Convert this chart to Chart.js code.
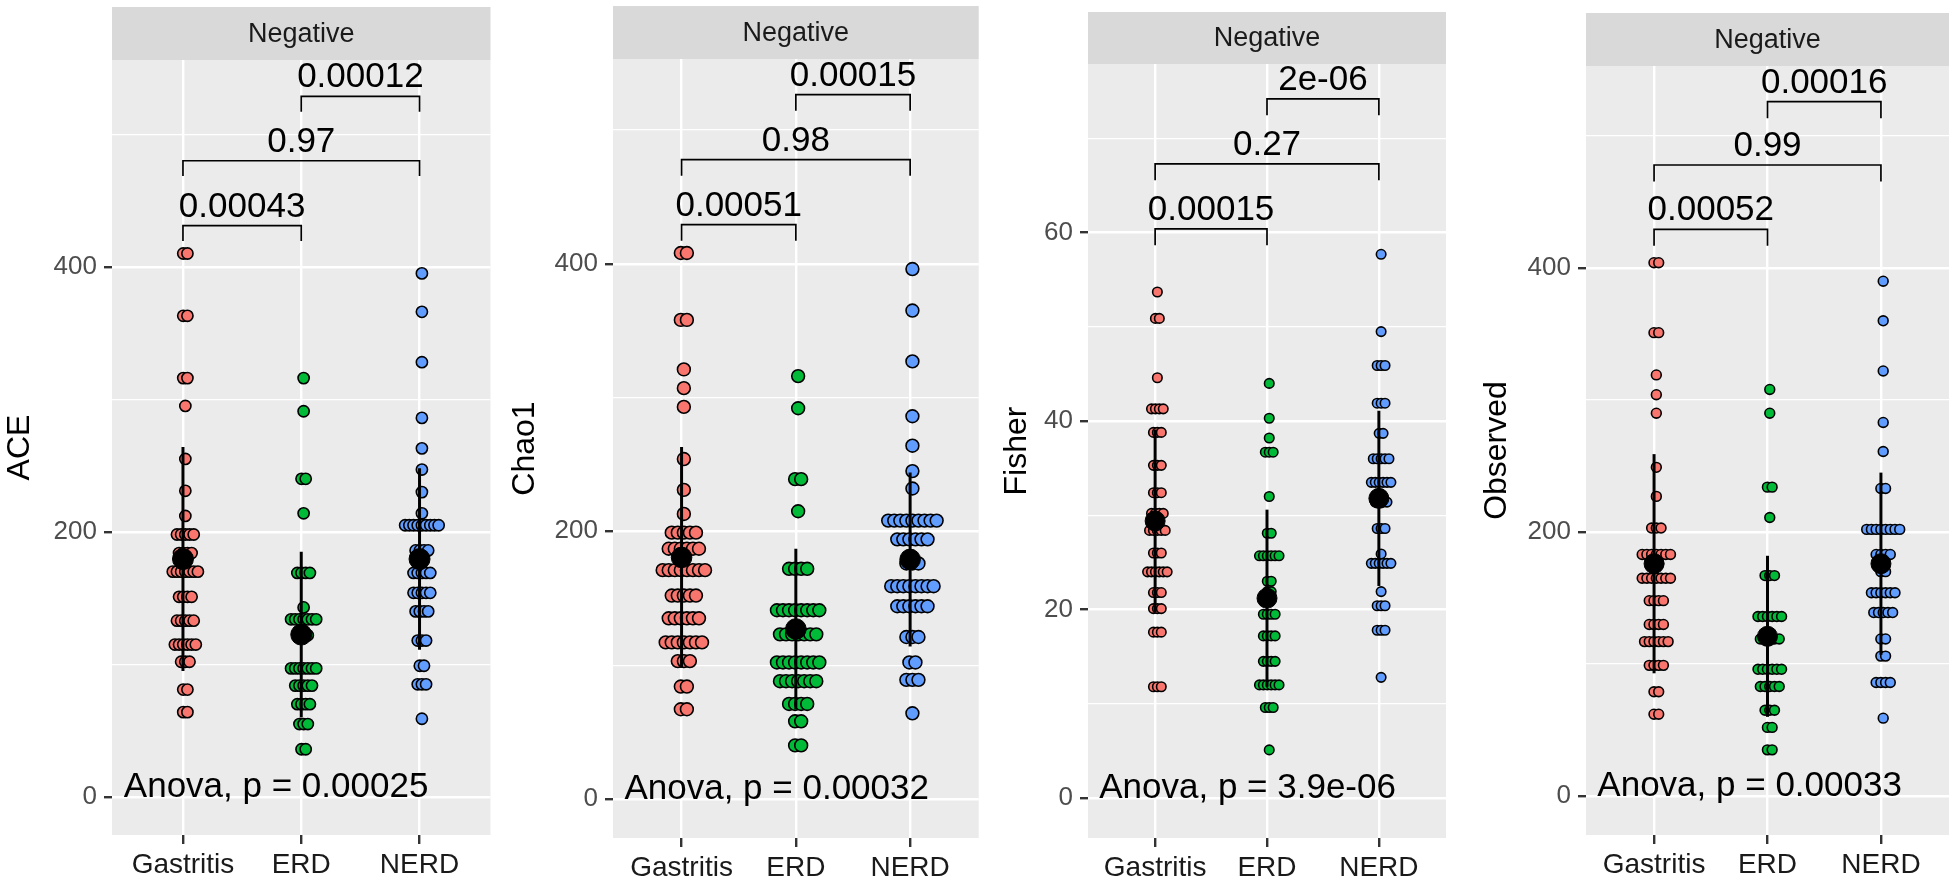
<!DOCTYPE html>
<html>
<head>
<meta charset="utf-8">
<title>Alpha diversity - Negative</title>
<script src="https://cdn.jsdelivr.net/npm/chart.js@4.4.1/dist/chart.umd.min.js"></script>
<style>
  html, body { margin: 0; padding: 0; background: #fff; }
  #wrap { position: relative; width: 1960px; height: 889px; }
  .panel { position: absolute; top: 0; height: 889px; }
</style>
</head>
<body>
<div id="wrap">
  <div class="panel" style="left:0;width:502px"><canvas id="chartAce"></canvas></div>
  <div class="panel" style="left:502px;width:488px"><canvas id="chartChao1"></canvas></div>
  <div class="panel" style="left:990px;width:467px"><canvas id="chartFisher"></canvas></div>
  <div class="panel" style="left:1457px;width:503px"><canvas id="chartObserved"></canvas></div>
</div>
<script>
var groups = ['Gastritis', 'ERD', 'NERD'];
var groupColors = ['#F8766D', '#00BA38', '#619CFF'];
var pairs = [[1, 2], [1, 3], [2, 3]];
var countTicks = [0, 200, 400];
var fisherTicks = [0, 20, 40, 60];

// rows of the dot plot: [value, number of samples in the bin]
var aceGastritis = [[410,2],[363,2],[316,2],[295,1],[255,1],[231,1],[212,1],[198,5],[184,4],[170,7],[151,4],[133,5],[115,6],[102,3],[81,2],[64,2]];
var aceErd = [[316,1],[291,1],[240,2],[214,1],[169,4],[143,1],[134,7],[122,3],[97,7],[84,5],[70,4],[55,3],[36,2]];
var aceNerd = [[395,1],[366,1],[328,1],[286,1],[263,1],[247,1],[230,1],[214,1],[205,9],[186,4],[169,5],[154,5],[140,4],[118,3],[99,2],[85,3],[59,1]];
var aceMean = [179.5, 122.5, 179.5];
var aceSd = [84.5, 62.5, 68.5];
var aceBrackets = [431, 480, 528.5];
var acePvalues = ['0.00043', '0.97', '0.00012'];
var aceAnova = 'Anova, p = 0.00025';

var chaoGastritis = [[408,2],[358,2],[321,1],[307,1],[293,1],[254,1],[231,1],[213,1],[199,5],[187,6],[171,8],[152,5],[135,6],[117,7],[103,3],[84,2],[67,2]];
var chaoErd = [[316,1],[292,1],[239,2],[215,1],[172,4],[141,8],[123,7],[102,8],[88,7],[71,4],[58,2],[40,2]];
var chaoNerd = [[396,1],[365,1],[327,1],[286,1],[264,1],[245,1],[232,1],[208,9],[194,6],[176,3],[159,8],[144,6],[121,3],[102,2],[89,3],[64,1]];
var chaoMean = [180.5, 127, 179];
var chaoSd = [82.5, 60, 65];
var chaoBrackets = [429.2, 477.8, 526.4];
var chaoPvalues = ['0.00051', '0.98', '0.00015'];
var chaoAnova = 'Anova, p = 0.00032';

var fisherGastritis = [[53.7,1],[50.9,2],[44.6,1],[41.3,4],[38.8,3],[35.3,3],[32.4,3],[30.2,4],[28.4,5],[26.0,3],[24.0,6],[21.8,3],[20.1,3],[17.6,3],[11.8,3]];
var fisherErd = [[44.0,1],[40.3,1],[38.2,1],[36.7,3],[32.0,1],[28.1,2],[25.7,6],[23.0,2],[21.9,2],[19.5,4],[17.2,4],[14.5,4],[12.0,6],[9.6,3],[5.1,1]];
var fisherNerd = [[57.7,1],[49.5,1],[45.9,3],[41.9,3],[38.7,2],[36.0,5],[33.5,6],[31.4,4],[28.6,3],[25.9,1],[24.9,6],[21.9,1],[20.4,3],[17.8,3],[12.8,1]];
var fisherMean = [29.4, 21.2, 31.8];
var fisherSd = [9.7, 9.4, 9.3];
var fisherBrackets = [60.4, 67.3, 74.2];
var fisherPvalues = ['0.00015', '0.27', '2e-06'];
var fisherAnova = 'Anova, p = 3.9e-06';

var obsGastritis = [[404,2],[351,2],[319,1],[304,1],[290,1],[249,1],[227,1],[203,3],[183,7],[176,2],[165,7],[148,4],[130,4],[117,6],[99,4],[79,2],[62,2]];
var obsErd = [[308,1],[290,1],[234,2],[211,1],[167,3],[136,6],[119,5],[96,6],[83,5],[65,3],[52,2],[35,2]];
var obsNerd = [[390,1],[360,1],[322,1],[283,1],[261,1],[233,2],[202,8],[183,4],[170,2],[154,6],[139,5],[119,2],[106,2],[86,4],[59,1]];
var obsMean = [176, 121, 176];
var obsSd = [83, 61, 69];
var obsBrackets = [429.3, 478, 526];
var obsPvalues = ['0.00052', '0.99', '0.00016'];
var obsAnova = 'Anova, p = 0.00033';

Chart.defaults.font.family = '"Liberation Sans", Arial, sans-serif';

// facet strip, panel background, p-value labels
var panelDecor = {
  id: 'panelDecor',
  beforeDraw: function (chart, args, opts) {
    var ctx = chart.ctx, a = chart.chartArea;
    ctx.save();
    ctx.fillStyle = '#EBEBEB';
    ctx.fillRect(a.left, a.top, a.right - a.left, a.bottom - a.top);
    ctx.fillStyle = '#D9D9D9';
    ctx.fillRect(a.left, opts.stripTop, a.right - a.left, a.top - opts.stripTop);
    ctx.fillStyle = '#1A1A1A';
    ctx.font = '27px "Liberation Sans", Arial, sans-serif';
    ctx.textAlign = 'center';
    ctx.textBaseline = 'middle';
    ctx.fillText('Negative', (a.left + a.right) / 2, (opts.stripTop + a.top) / 2 + 1);
    ctx.restore();
  },
  afterDatasetsDraw: function (chart, args, opts) {
    var ctx = chart.ctx, xs = chart.scales.x, ys = chart.scales.y;
    ctx.save();
    ctx.fillStyle = '#000';
    ctx.font = '35px "Liberation Sans", Arial, sans-serif';
    ctx.textAlign = 'center';
    ctx.textBaseline = 'alphabetic';
    pairs.forEach(function (pr, i) {
      ctx.fillText(opts.pvalues[i], xs.getPixelForValue((pr[0] + pr[1]) / 2), ys.getPixelForValue(opts.brackets[i]) - 9);
    });
    ctx.textAlign = 'left';
    ctx.fillText(opts.anova, xs.getPixelForValue(0.5), ys.getPixelForValue(0));
    ctx.restore();
  }
};

function dotRows(rows, g, step) {
  var pts = [];
  rows.forEach(function (r) {
    for (var k = 0; k < r[1]; k++) {
      pts.push({ x: g + 0.02 + (k - (r[1] - 1) / 2) * step, y: r[0] });
    }
  });
  return pts;
}

function renderPanel(canvasId, p) {
  var el = document.getElementById(canvasId);
  if (!el) return;
  var datasets = [];
  p.rows.forEach(function (rows, i) {
    datasets.push({
      data: dotRows(rows, i + 1, p.step),
      showLine: false,
      pointRadius: p.dotR,
      pointBackgroundColor: groupColors[i],
      pointBorderColor: '#000',
      pointBorderWidth: 1.6,
      order: 3
    });
  });
  p.mean.forEach(function (m, i) {
    datasets.push({
      data: [{ x: i + 1, y: m - p.sd[i] }, { x: i + 1, y: m + p.sd[i] }],
      showLine: true,
      borderColor: '#000',
      borderWidth: 3,
      pointRadius: 0,
      order: 2
    });
    datasets.push({
      data: [{ x: i + 1, y: m }],
      pointRadius: p.meanR,
      pointBackgroundColor: '#000',
      pointBorderColor: '#000',
      pointBorderWidth: 1,
      order: 1
    });
  });
  pairs.forEach(function (pr, i) {
    var lv = p.brackets[i];
    datasets.push({
      data: [{ x: pr[0], y: lv - p.tip }, { x: pr[0], y: lv }, { x: pr[1], y: lv }, { x: pr[1], y: lv - p.tip }],
      showLine: true,
      borderColor: '#000',
      borderWidth: 1.7,
      borderJoinStyle: 'miter',
      pointRadius: 0,
      order: 0
    });
  });

  var half = (p.ticks[1] - p.ticks[0]) / 2;
  var gridValues = [];
  for (var v = p.ticks[0]; v <= p.max; v += half) gridValues.push(v);

  new Chart(el, {
    type: 'scatter',
    data: { datasets: datasets },
    options: {
      responsive: true,
      maintainAspectRatio: false,
      devicePixelRatio: 1,
      animation: false,
      events: [],
      layout: { padding: { top: p.padTop, right: p.padRight, left: 0, bottom: 0 } },
      plugins: {
        legend: { display: false },
        tooltip: { enabled: false },
        panelDecor: { stripTop: p.stripTop, pvalues: p.pvalues, brackets: p.brackets, anova: p.anova }
      },
      scales: {
        x: {
          type: 'linear',
          min: 0.4,
          max: 3.6,
          afterBuildTicks: function (s) { s.ticks = groups.map(function (g, i) { return { value: i + 1 }; }); },
          afterFit: function (s) { s.height = p.xHeight; },
          ticks: {
            callback: function (val) { return groups[val - 1]; },
            color: '#1A1A1A',
            font: { size: 28 },
            padding: 4,
            maxRotation: 0,
            autoSkip: false
          },
          grid: { color: '#FFFFFF', lineWidth: 2.4, tickColor: '#333333', tickWidth: 2.4, tickLength: 9 },
          border: { display: false }
        },
        y: {
          min: p.min,
          max: p.max,
          afterBuildTicks: function (s) { s.ticks = gridValues.map(function (g) { return { value: g }; }); },
          afterFit: function (s) { s.width = p.yWidth; },
          ticks: {
            callback: function (val) { return p.ticks.indexOf(val) >= 0 ? String(val) : ''; },
            color: '#4D4D4D',
            font: { size: 26 },
            padding: 7
          },
          grid: {
            color: '#FFFFFF',
            lineWidth: function (c) { return c.tick && p.ticks.indexOf(c.tick.value) >= 0 ? 2.4 : 1.2; },
            tickColor: function (c) { return c.tick && p.ticks.indexOf(c.tick.value) >= 0 ? '#333333' : 'rgba(0,0,0,0)'; },
            tickWidth: 2.4,
            tickLength: 8
          },
          border: { display: false },
          title: {
            display: true,
            text: p.title,
            color: '#000',
            font: { size: 32, lineHeight: 1 },
            padding: { top: p.titlePad, bottom: 0 }
          }
        }
      }
    },
    plugins: [panelDecor]
  });
}

function renderDiversityCharts() {
  renderPanel('chartAce', {
    title: 'ACE', rows: [aceGastritis, aceErd, aceNerd], mean: aceMean, sd: aceSd,
    brackets: aceBrackets, pvalues: acePvalues, anova: aceAnova, ticks: countTicks,
    min: -28.7, max: 556, tip: 11.5, step: 0.0354, dotR: 5.6, meanR: 10.5,
    yWidth: 112, padTop: 60, padRight: 2, xHeight: 54, stripTop: 7, titlePad: 4
  });
  renderPanel('chartChao1', {
    title: 'Chao1', rows: [chaoGastritis, chaoErd, chaoNerd], mean: chaoMean, sd: chaoSd,
    brackets: chaoBrackets, pvalues: chaoPvalues, anova: chaoAnova, ticks: countTicks,
    min: -29.2, max: 553, tip: 12, step: 0.053, dotR: 6.4, meanR: 10.3,
    yWidth: 111, padTop: 59, padRight: 3, xHeight: 51, stripTop: 6, titlePad: 7
  });
  renderPanel('chartFisher', {
    title: 'Fisher', rows: [fisherGastritis, fisherErd, fisherNerd], mean: fisherMean, sd: fisherSd,
    brackets: fisherBrackets, pvalues: fisherPvalues, anova: fisherAnova, ticks: fisherTicks,
    min: -4.25, max: 77.9, tip: 1.75, step: 0.035, dotR: 4.75, meanR: 10,
    yWidth: 98, padTop: 64, padRight: 3, xHeight: 51, stripTop: 12, titlePad: 11
  });
  renderPanel('chartObserved', {
    title: 'Observed', rows: [obsGastritis, obsErd, obsNerd], mean: obsMean, sd: obsSd,
    brackets: obsBrackets, pvalues: obsPvalues, anova: obsAnova, ticks: countTicks,
    min: -29.5, max: 553, tip: 12.5, step: 0.0416, dotR: 4.9, meanR: 10,
    yWidth: 129, padTop: 66, padRight: 5, xHeight: 54, stripTop: 13, titlePad: 24
  });
}

renderDiversityCharts();
</script>
</body>
</html>
